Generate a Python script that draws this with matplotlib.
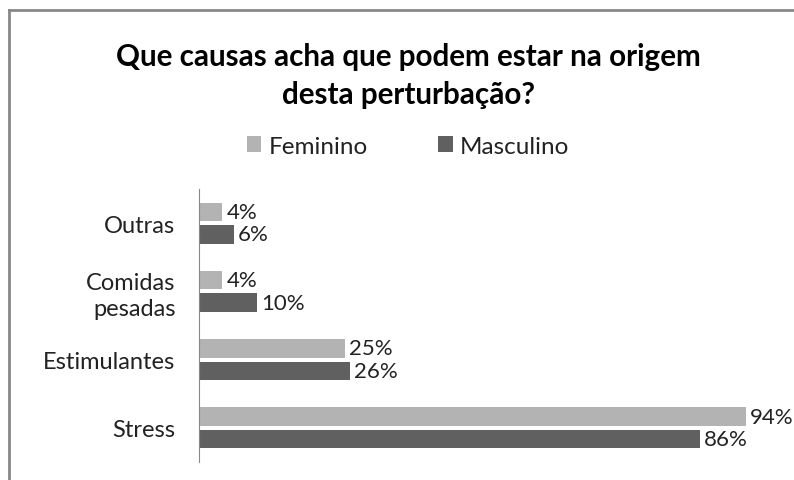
import matplotlib
matplotlib.use("Agg")
import matplotlib.pyplot as plt
from matplotlib.lines import Line2D
import numpy as np

plt.rcParams['font.family'] = ['Lato', 'DejaVu Sans']

categories = ["Stress", "Estimulantes", "Comidas\npesadas", "Outras"]
feminino = [94, 25, 4, 4]
masculino = [86, 26, 10, 6]
series_names = ["Feminino", "Masculino"]
colors = ["#b3b3b3", "#606060"]

fig = plt.figure(figsize=(7.94, 4.81), dpi=100)
ax = fig.add_axes([199/794, 1-463/481, 582/794, (463-190)/481])

y = np.arange(len(categories))
h = 0.27
off = 0.165
b1 = ax.barh(y + off, feminino, height=h, color=colors[0], label=series_names[0])
b2 = ax.barh(y - off, masculino, height=h, color=colors[1], label=series_names[1])

for bars, vals in ((b1, feminino), (b2, masculino)):
    for b, v in zip(bars, vals):
        ax.annotate(f"{v}%", (b.get_width(), b.get_y() + b.get_height()/2),
                    xytext=(3, 0), textcoords="offset points",
                    va="center", ha="left", fontsize=16, color="#222222")

ax.set_xlim(0, 100)
ax.set_ylim(-0.5, 3.5)
ax.set_yticks(y)
ax.set_yticklabels(categories, fontsize=17, color="#222222", linespacing=1.25)
ax.tick_params(axis='y', length=0, pad=17)
ax.set_xticks([])
for s in ["top", "right", "bottom"]:
    ax.spines[s].set_visible(False)
ax.spines["left"].set_color("#888888")

fig.text(408/794, 1-76/481, "Que causas acha que podem estar na origem\ndesta perturbação?",
         ha="center", va="center", fontsize=21.3, fontweight="bold", linespacing=1.45)

fig.legend(handles=[b1, b2], labels=series_names, loc="center",
           bbox_to_anchor=(408/794, 1-147/481), ncol=2, frameon=False,
           fontsize=17.5, handlelength=0.6, handleheight=0.6, columnspacing=2.9,
           handletextpad=0.3, labelcolor="#222222")

# outer frame (left and top edges)
fig.add_artist(Line2D([9/794, 9/794], [0, 1-11/481], transform=fig.transFigure, color="#888888", lw=2))
fig.add_artist(Line2D([9/794, 1], [1-11/481, 1-11/481], transform=fig.transFigure, color="#888888", lw=2))

fig.savefig("out.png", dpi=100)
